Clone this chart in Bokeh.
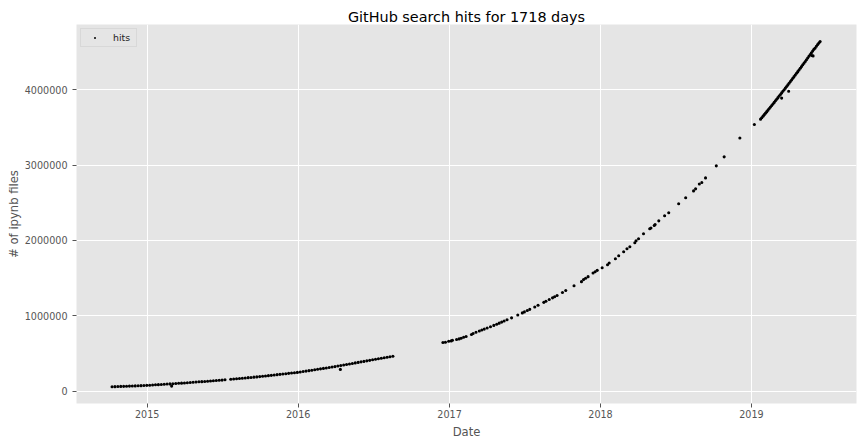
import pandas as pd
from bokeh.plotting import figure
from bokeh.models import FixedTicker, Range1d, BasicTickFormatter, ColumnDataSource, DatetimeTickFormatter
from bokeh.embed import file_html
from bokeh.resources import INLINE

# ---- data ----
dates_2014_2016 = [
    "2014-10-08", "2014-10-15", "2014-10-22", "2014-10-29", "2014-11-05", "2014-11-12", "2014-11-19",
    "2014-11-26", "2014-12-03", "2014-12-10", "2014-12-17", "2014-12-24", "2014-12-31",
    "2015-01-07", "2015-01-14", "2015-01-21", "2015-01-28", "2015-02-04", "2015-02-11", "2015-02-18",
    "2015-02-25", "2015-03-04", "2015-03-11", "2015-03-18", "2015-03-25", "2015-04-01", "2015-04-08",
    "2015-04-15", "2015-04-22", "2015-04-29", "2015-05-06", "2015-05-13", "2015-05-20", "2015-05-27",
    "2015-06-03", "2015-06-10", "2015-06-17", "2015-06-24", "2015-07-01", "2015-07-08",
    "2015-07-22", "2015-07-29", "2015-08-05", "2015-08-12", "2015-08-19", "2015-08-26", "2015-09-02",
    "2015-09-09", "2015-09-16", "2015-09-23", "2015-09-30", "2015-10-07", "2015-10-14", "2015-10-21",
    "2015-10-28", "2015-11-04", "2015-11-11", "2015-11-18", "2015-11-25", "2015-12-02", "2015-12-09",
    "2015-12-16", "2015-12-23", "2015-12-30",
    "2016-01-06", "2016-01-13", "2016-01-20", "2016-01-27", "2016-02-03", "2016-02-10", "2016-02-17",
    "2016-02-24", "2016-03-02", "2016-03-09", "2016-03-16", "2016-03-23", "2016-03-30", "2016-04-06",
    "2016-04-13", "2016-04-20", "2016-04-27", "2016-05-04", "2016-05-11", "2016-05-18", "2016-05-25",
    "2016-06-01", "2016-06-08", "2016-06-15", "2016-06-22", "2016-06-29", "2016-07-06", "2016-07-13",
    "2016-07-20", "2016-07-27", "2016-08-03", "2016-08-10", "2016-08-17",
]
hits_2014_2016 = [
    58000, 59000, 60000, 62000, 63000, 65000, 66000,
    68000, 69000, 71000, 72000, 74000, 76000,
    78000, 80000, 83000, 85000, 88000, 90000, 93000,
    95000, 98000, 100000, 103000, 105000, 108000, 111000,
    114000, 117000, 120000, 123000, 125000, 128000, 131000,
    134000, 137000, 140000, 143000, 146000, 150000,
    157000, 160000, 164000, 167000, 171000, 174000, 178000,
    181000, 185000, 188000, 192000, 196000, 200000, 205000,
    209000, 213000, 218000, 222000, 226000, 231000, 235000,
    239000, 244000, 248000,
    254000, 260000, 265000, 271000, 277000, 283000, 289000,
    295000, 301000, 307000, 313000, 319000, 325000, 332000,
    339000, 346000, 353000, 360000, 367000, 374000, 381000,
    388000, 394000, 401000, 408000, 415000, 422000, 429000,
    436000, 443000, 449000, 456000, 463000,
]

dates_2017_2018 = [
    "2016-12-16", "2016-12-22", "2016-12-30", "2017-01-05", "2017-01-08", "2017-01-18", "2017-01-24",
    "2017-01-29", "2017-02-04", "2017-02-10", "2017-02-23", "2017-02-27", "2017-03-06", "2017-03-14",
    "2017-03-20", "2017-03-26", "2017-04-02", "2017-04-10", "2017-04-18", "2017-04-25", "2017-05-01",
    "2017-05-07", "2017-05-13", "2017-05-20", "2017-05-31", "2017-06-15", "2017-06-26", "2017-07-01",
    "2017-07-08", "2017-07-14", "2017-07-26", "2017-08-03", "2017-08-17", "2017-08-22", "2017-08-30",
    "2017-09-07", "2017-09-12", "2017-09-18", "2017-10-01", "2017-10-09", "2017-10-29", "2017-11-16",
    "2017-11-21", "2017-11-26", "2017-12-02", "2017-12-14", "2017-12-19", "2017-12-24",
    "2018-01-05", "2018-01-18", "2018-01-22", "2018-02-06", "2018-02-14", "2018-02-26", "2018-03-06",
    "2018-03-13", "2018-03-25", "2018-03-28", "2018-04-03", "2018-04-15", "2018-04-30", "2018-05-03",
    "2018-05-11", "2018-05-13", "2018-05-22", "2018-06-05", "2018-06-15", "2018-07-09", "2018-07-26",
    "2018-08-14", "2018-08-19", "2018-08-28", "2018-09-03", "2018-09-12", "2018-10-08", "2018-10-27",
    "2018-12-04", "2019-01-08",
]
hits_2017_2018 = [
    645000, 649000, 662000, 666000, 675000, 685000, 693000,
    702000, 715000, 724000, 752000, 765000, 780000, 797000,
    810000, 823000, 838000, 855000, 872000, 888000, 902000,
    916000, 930000, 946000, 972000, 1010000, 1038000, 1051000,
    1069000, 1085000, 1117000, 1139000, 1178000, 1192000, 1215000,
    1238000, 1253000, 1270000, 1309000, 1335000, 1398000, 1453000,
    1480000, 1497000, 1519000, 1567000, 1585000, 1603000,
    1638000, 1678000, 1700000, 1757000, 1797000, 1850000, 1890000,
    1916000, 1970000, 1996000, 2022000, 2089000, 2155000, 2165000,
    2199000, 2212000, 2260000, 2327000, 2367000, 2486000, 2566000,
    2658000, 2685000, 2750000, 2770000, 2830000, 2990000, 3110000,
    3360000, 3540000,
]

dates_2019 = [
    "2019-01-23", "2019-01-26", "2019-01-29", "2019-02-01", "2019-02-04", "2019-02-07", "2019-02-10",
    "2019-02-13", "2019-02-16", "2019-02-19", "2019-02-22", "2019-02-25", "2019-02-28", "2019-03-03",
    "2019-03-06", "2019-03-09", "2019-03-12", "2019-03-15", "2019-03-18", "2019-03-21", "2019-03-24",
    "2019-03-27", "2019-03-30", "2019-04-02", "2019-04-05", "2019-04-08", "2019-04-11", "2019-04-14",
    "2019-04-17", "2019-04-20", "2019-04-23", "2019-04-26", "2019-04-29", "2019-05-02", "2019-05-05",
    "2019-05-08", "2019-05-11", "2019-05-14", "2019-05-17", "2019-05-20", "2019-05-23", "2019-05-26",
    "2019-05-29", "2019-06-01", "2019-06-04", "2019-06-07", "2019-06-10", "2019-06-13", "2019-06-16",
]
hits_2019 = [
    3610000, 3630000, 3650000, 3670000, 3690000, 3710000, 3730000,
    3751000, 3771000, 3792000, 3812000, 3833000, 3854000, 3875000,
    3896000, 3917000, 3938000, 3959000, 3980000, 4001000, 4022000,
    4044000, 4065000, 4087000, 4109000, 4131000, 4153000, 4175000,
    4197000, 4219000, 4241000, 4263000, 4286000, 4308000, 4331000,
    4353000, 4376000, 4399000, 4422000, 4445000, 4468000, 4491000,
    4514000, 4537000, 4555000, 4578000, 4600000, 4620000, 4640000,
]

outlier_dates = ["2015-03-01", "2016-04-12", "2019-03-15", "2019-04-01", "2019-05-27", "2019-05-30"]
outlier_hits = [66000, 288000, 3890000, 3980000, 4455000, 4450000]

year_ticks = ["2015", "2016", "2017", "2018", "2019"]
y_ticks = [0, 1000000, 2000000, 3000000, 4000000]

# ---- build ----
all_dates = pd.to_datetime(dates_2014_2016 + dates_2017_2018 + dates_2019 + outlier_dates)
all_hits = hits_2014_2016 + hits_2017_2018 + hits_2019 + outlier_hits
src = ColumnDataSource(dict(date=all_dates, hits=all_hits))

FONT = "DejaVu Sans"
GREY = "#555555"

p = figure(
    width=866, height=445, x_axis_type="datetime",
    output_backend="svg", toolbar_location=None,
    x_range=Range1d(pd.Timestamp("2014-07-14"), pd.Timestamp("2019-09-12")),
    y_range=Range1d(-165000, 4867000),
    min_border_left=76, min_border_right=10, min_border_top=24, min_border_bottom=42,
    title="GitHub search hits for 1718 days",
)

p.scatter("date", "hits", source=src, marker="circle", size=3.1,
          fill_color="black", line_color=None, legend_label="hits")

p.background_fill_color = "#E5E5E5"
p.border_fill_color = "white"
p.outline_line_color = None

p.title.align = "center"
p.title.text_font = FONT
p.title.text_font_size = "14.4px"
p.title.text_font_style = "normal"
p.title.text_color = "black"
p.title.standoff = 0
p.title.offset = 0

tick_ms = [pd.Timestamp(y + "-01-01").value // 10**6 for y in year_ticks]
p.xaxis.ticker = FixedTicker(ticks=tick_ms)
p.xaxis.formatter = DatetimeTickFormatter(years="%Y", months="%Y", days="%Y", hours="%Y",
                                          minutes="%Y", seconds="%Y", milliseconds="%Y")
p.yaxis.ticker = FixedTicker(ticks=y_ticks)
p.yaxis.formatter = BasicTickFormatter(use_scientific=False)

p.xaxis.axis_label = "Date"
p.yaxis.axis_label = "# of ipynb files"

for ax in (p.xaxis, p.yaxis):
    ax.axis_line_color = None
    ax.major_tick_line_color = GREY
    ax.major_tick_out = 4
    ax.major_tick_in = 0
    ax.minor_tick_line_color = None
    ax.major_label_text_color = GREY
    ax.major_label_text_font = FONT
    ax.major_label_text_font_size = "9.6px"
    ax.axis_label_text_color = GREY
    ax.axis_label_text_font = FONT
    ax.axis_label_text_font_size = "11.6px"
    ax.axis_label_text_font_style = "normal"

p.xaxis.major_label_standoff = 2
p.xaxis.axis_label_standoff = 4
p.yaxis.major_label_standoff = 5
p.yaxis.axis_label_standoff = 1

p.xgrid.grid_line_color = "white"
p.ygrid.grid_line_color = "white"
p.xgrid.grid_line_width = 1
p.ygrid.grid_line_width = 1

p.legend.location = "top_left"
p.legend.margin = 4
p.legend.padding = 3
p.legend.spacing = 0
p.legend.glyph_width = 21
p.legend.glyph_height = 5
p.legend.label_height = 9
p.legend.label_standoff = 8
p.legend.label_text_font = FONT
p.legend.label_text_font_size = "9.4px"
p.legend.label_text_color = "#222222"
p.legend.background_fill_color = "#E5E5E5"
p.legend.background_fill_alpha = 0.8
p.legend.border_line_color = "#CCCCCC"
p.legend.border_line_width = 1

open("out.html", "w").write(file_html(p, INLINE))
